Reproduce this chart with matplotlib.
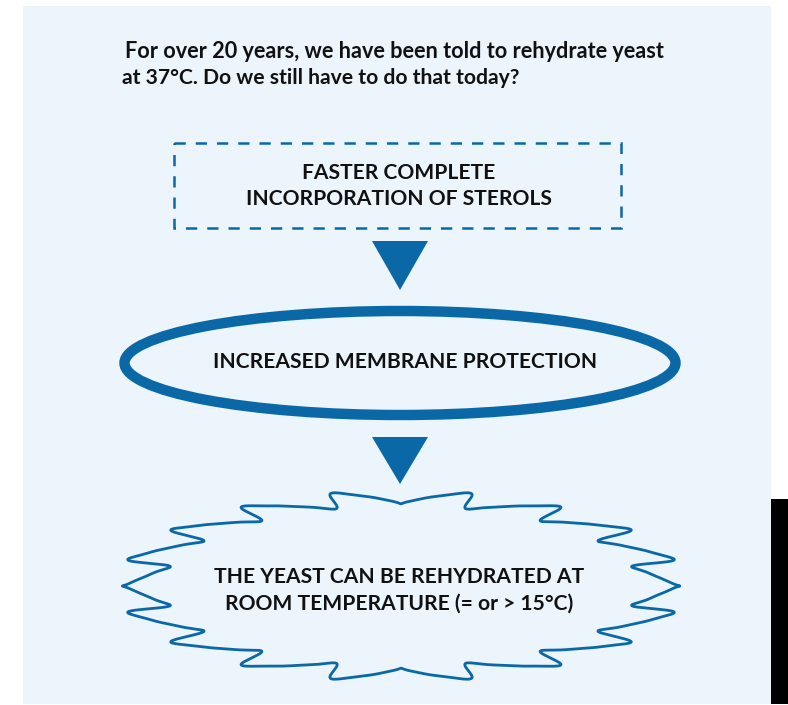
import numpy as np
import matplotlib
matplotlib.use("Agg")
import matplotlib.pyplot as plt
from matplotlib.patches import Rectangle, Ellipse, Polygon

title_lines = ["For over 20 years, we have been told to rehydrate yeast",
               "at 37°C. Do we still have to do that today?"]
box_lines = ["FASTER COMPLETE", "INCORPORATION OF STEROLS"]
ellipse_text = ["INCREASED MEMBRANE PROTECTION"]
burst_lines = ["THE YEAST CAN BE REHYDRATED AT", "ROOM TEMPERATURE (= or > 15°C)"]

BG = "#ECF4FC"
BLUE = "#0A68A7"
FONT = ["Lato", "DejaVu Sans"]

W, H = 788, 705
fig = plt.figure(figsize=(W / 100, H / 100), dpi=100)
fig.patch.set_facecolor("white")
ax = fig.add_axes([0, 0, 1, 1])
ax.set_xlim(0, W)
ax.set_ylim(H, 0)
ax.axis("off")

# background panel and black strip
ax.add_patch(Rectangle((23, 6), 748, 698, facecolor=BG, edgecolor="none"))
ax.add_patch(Rectangle((771, 499), 17, 205, facecolor="black", edgecolor="none"))

# title
ax.text(125, 52, title_lines[0], fontsize=15.6, fontweight="bold", family=FONT,
        ha="left", va="center", color="#111111")
ax.text(122, 78, title_lines[1], fontsize=15.2, fontweight="bold", family=FONT,
        ha="left", va="center", color="#111111")

# dashed box
ax.add_patch(Rectangle((174, 143), 447, 85, facecolor="none", edgecolor=BLUE,
                       lw=1.8, linestyle=(0, (4.5, 4))))
for i, s in enumerate(box_lines):
    ax.text(399, 173 + 26 * i, s, fontsize=15.1, fontweight="bold", family=FONT,
            ha="center", va="center", color="#111111")

# arrows
for ytop, ybot in [(241, 290), (437, 484)]:
    ax.add_patch(Polygon([(372, ytop), (428, ytop), (400, ybot)], closed=True,
                         facecolor=BLUE, edgecolor="none"))

# ellipse
ax.add_patch(Ellipse((400, 363), 551, 104, facecolor="none", edgecolor=BLUE, lw=7.5))
ax.text(405, 362, ellipse_text[0], fontsize=15.1, fontweight="bold", family=FONT,
        ha="center", va="center", color="#111111")

# wavy burst (staircase-like sawtooth outline, mirrored into four quadrants)
cx, cy, a, b = 401, 586, 261, 88
K = 3
psi = np.linspace(0, np.pi / 2, 3000)
u = 0.25 + psi / (np.pi / 2) * 4.5
ks = np.arange(1, K + 1)
sig = np.sinc(ks / (K + 1))
S = (sig[:, None] * np.sin(2 * np.pi * ks[:, None] * u[None, :]) / ks[:, None]).sum(0)
S = S / np.abs(S).max()
w = np.clip(4 * np.sin(2 * psi), 0, 1)
tq = psi - 0.032 * S * w
r = 1 + 0.09 * S
xq, yq = a * r * np.cos(tq), b * r * np.sin(tq)
X = np.concatenate([xq, -xq[::-1], -xq, xq[::-1]])
Y = np.concatenate([yq, yq[::-1], -yq, -yq[::-1]])
ax.plot(cx + X, cy - Y, color=BLUE, lw=2.0, solid_capstyle="round",
        solid_joinstyle="round")

for i, s_ in enumerate(burst_lines):
    ax.text(399, 577 + 27 * i, s_, fontsize=15.1, fontweight="bold", family=FONT,
            ha="center", va="center", color="#111111")

fig.savefig("out.png", dpi=100, facecolor="white")
